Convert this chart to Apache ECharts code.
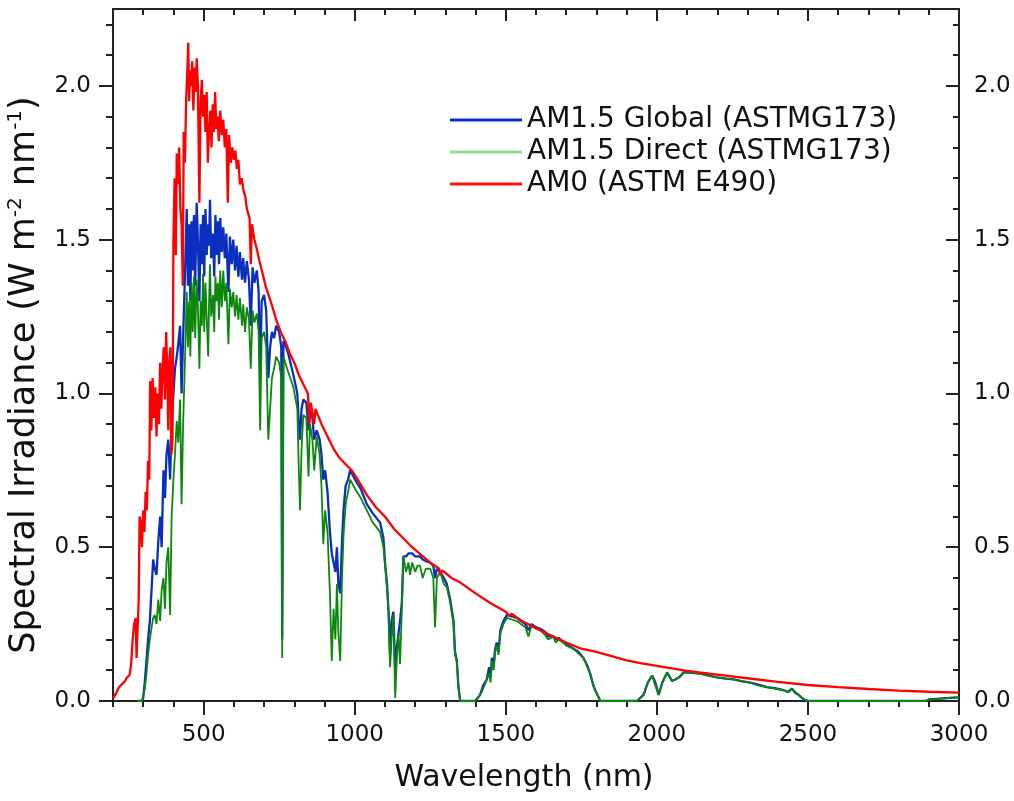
<!DOCTYPE html>
<html>
<head>
<meta charset="utf-8">
<script src="https://cdn.jsdelivr.net/npm/echarts@6/dist/echarts.min.js"></script>
<style>
html,body{margin:0;padding:0;background:#fff;}
#chart{width:1014px;height:801px;}
</style>
</head>
<body>
<div id="chart"></div>
<script>
// ---- Data ----
var am0Wl = [200,210,220,230,240,245,250,255,260,265,270,275,278,282,285,288,292,296,300,304,308,312,316,320,323,327,331,335,340,344,348,352,356,360,364,368,372,376,380,383,386,390,393,397,400,404,408,411,415,419,423,427,431,434,438,442,446,449,452,455,459,462,466,470,474,477,481,486,490,494,498,502,506,510,514,518,522,526,530,534,538,542,546,550,555,560,565,570,575,580,584,590,595,600,605,610,615,620,626,632,638,643,648,652,656,660,668,676,685,695,705,715,725,740,755,770,785,800,815,830,845,850,855,866,870,890,910,930,950,970,990,1010,1040,1070,1100,1130,1160,1190,1220,1250,1280,1282,1290,1320,1350,1400,1450,1500,1510,1520,1550,1600,1650,1700,1750,1800,1850,1900,1950,2000,2050,2100,2200,2300,2400,2500,2600,2700,2800,2900,3000];
var am0Val = [0.008,0.025,0.045,0.055,0.065,0.075,0.07,0.085,0.12,0.2,0.25,0.27,0.14,0.25,0.33,0.6,0.58,0.5,0.62,0.55,0.68,0.62,0.78,0.72,1.04,0.88,1.05,0.92,1.02,0.86,1.0,0.9,1.1,0.95,1.08,1.15,0.98,1.2,1.05,0.88,1.1,1.15,0.8,0.85,1.5,1.7,1.45,1.78,1.68,1.8,1.6,1.55,1.35,1.85,1.75,1.95,2.05,2.14,1.95,2.05,2.0,2.08,1.92,2.06,1.98,2.09,2.0,1.62,1.95,2.02,1.9,1.97,1.85,1.98,1.75,1.85,1.92,1.8,1.94,1.85,1.98,1.86,1.9,1.82,1.92,1.84,1.89,1.8,1.86,1.62,1.84,1.75,1.8,1.76,1.79,1.73,1.76,1.68,1.7,1.66,1.64,1.6,1.6,1.57,1.42,1.55,1.5,1.47,1.43,1.39,1.35,1.32,1.29,1.24,1.2,1.17,1.13,1.1,1.06,1.03,1.0,0.9,0.97,0.9,0.95,0.9,0.86,0.82,0.79,0.77,0.75,0.72,0.67,0.63,0.6,0.56,0.53,0.5,0.475,0.45,0.43,0.41,0.425,0.4,0.385,0.35,0.318,0.29,0.278,0.283,0.262,0.237,0.213,0.19,0.17,0.16,0.146,0.132,0.122,0.114,0.106,0.098,0.086,0.074,0.062,0.052,0.045,0.039,0.034,0.03,0.027];

var g173Wl = [280,296,300,305,310,316,322,328,333,338,344,350,356,361,367,372,377,383,389,394,400,405,411,416,422,427,432,438,444,448,452,456,460,464,468,472,477,481,486,490,494,498,502,506,510,515,518,521,525,531,535,539,543,547,551,555,560,565,570,575,582,587,593,598,604,609,615,620,627,631,637,643,650,656,662,668,676,682,687,692,700,707,714,720,726,733,740,750,757,760,764,770,780,797,810,815,819,824,830,840,847,852,860,866,874,884,890,896,902,910,918,924,930,936,941,946,952,958,963,970,978,985,1001,1020,1040,1060,1084,1095,1101,1107,1112,1117,1122,1128,1134,1140,1145,1150,1156,1161,1170,1178,1183,1190,1200,1208,1216,1225,1235,1250,1260,1266,1272,1283,1295,1305,1316,1327,1332,1338,1343,1349,1399,1415,1425,1437,1445,1450,1454,1460,1465,1470,1476,1482,1492,1504,1520,1537,1550,1565,1575,1585,1600,1614,1630,1640,1658,1665,1675,1691,1700,1724,1740,1757,1770,1779,1790,1796,1813,1934,1956,1970,1984,1995,2006,2018,2034,2050,2061,2075,2089,2110,2144,2170,2199,2230,2254,2280,2309,2330,2364,2390,2419,2435,2447,2458,2469,2486,2502,2890,2900,2940,2970,3000];
var globalVal = [0,0,0.01,0.06,0.12,0.2,0.26,0.37,0.46,0.43,0.41,0.52,0.6,0.5,0.75,0.66,0.8,0.85,0.72,0.9,1.0,1.08,1.12,1.16,1.22,1.0,1.18,1.38,1.6,1.35,1.55,1.3,1.56,1.4,1.58,1.35,1.62,1.5,1.3,1.55,1.42,1.58,1.38,1.6,1.45,1.55,1.48,1.63,1.44,1.52,1.38,1.58,1.45,1.56,1.42,1.57,1.46,1.54,1.44,1.52,1.33,1.51,1.42,1.5,1.4,1.48,1.38,1.46,1.37,1.44,1.36,1.43,1.37,1.22,1.41,1.36,1.4,1.33,1.05,1.3,1.32,1.27,1.05,1.15,1.2,1.18,1.22,1.2,1.15,0.2,1.17,1.16,1.13,1.06,1.0,0.9,0.85,0.95,0.98,0.97,0.88,0.96,0.92,0.85,0.88,0.85,0.8,0.72,0.75,0.68,0.55,0.48,0.45,0.42,0.5,0.38,0.35,0.52,0.62,0.7,0.72,0.75,0.72,0.69,0.64,0.61,0.58,0.53,0.44,0.38,0.29,0.15,0.26,0.29,0.1,0.18,0.22,0.26,0.32,0.47,0.47,0.48,0.48,0.48,0.47,0.47,0.47,0.46,0.455,0.45,0.44,0.4,0.43,0.42,0.4,0.38,0.33,0.26,0.16,0.13,0.05,0,0,0.02,0.05,0.07,0.11,0.08,0.14,0.12,0.17,0.19,0.16,0.23,0.26,0.28,0.275,0.27,0.26,0.25,0.23,0.25,0.24,0.235,0.225,0.21,0.21,0.2,0.205,0.19,0.185,0.17,0.16,0.14,0.115,0.09,0.05,0.035,0,0,0.02,0.06,0.083,0.06,0.02,0.06,0.093,0.065,0.07,0.078,0.093,0.092,0.089,0.083,0.077,0.073,0.07,0.065,0.06,0.055,0.045,0.042,0.035,0.03,0.04,0.028,0.02,0.005,0,0,0.005,0.008,0.01,0.012];
var directVal = [0,0,0.005,0.04,0.08,0.15,0.2,0.24,0.27,0.28,0.25,0.33,0.26,0.36,0.4,0.3,0.45,0.5,0.28,0.6,0.72,0.8,0.91,0.84,0.98,0.64,0.9,1.1,1.33,1.15,1.3,1.12,1.36,1.2,1.38,1.18,1.37,1.28,1.08,1.3,1.22,1.39,1.2,1.36,1.25,1.12,1.3,1.42,1.25,1.32,1.2,1.38,1.3,1.36,1.24,1.4,1.28,1.4,1.3,1.36,1.16,1.34,1.28,1.33,1.25,1.32,1.24,1.31,1.22,1.29,1.2,1.28,1.24,1.08,1.27,1.23,1.26,1.2,0.88,1.18,1.2,1.15,0.85,0.95,1.05,1.08,1.12,1.1,1.05,0.14,1.12,1.1,1.07,1.02,0.95,0.75,0.62,0.82,0.93,0.92,0.73,0.9,0.85,0.75,0.86,0.8,0.7,0.51,0.62,0.55,0.35,0.13,0.3,0.2,0.38,0.22,0.13,0.4,0.54,0.64,0.68,0.72,0.69,0.66,0.62,0.58,0.55,0.5,0.44,0.36,0.29,0.11,0.2,0.28,0.01,0.15,0.22,0.12,0.3,0.47,0.42,0.45,0.41,0.45,0.42,0.44,0.44,0.4,0.43,0.43,0.4,0.24,0.4,0.42,0.38,0.37,0.32,0.25,0.15,0.13,0.05,0,0,0.02,0.04,0.07,0.09,0.06,0.13,0.1,0.16,0.18,0.15,0.22,0.25,0.27,0.265,0.26,0.25,0.24,0.21,0.245,0.235,0.23,0.215,0.2,0.21,0.19,0.2,0.19,0.18,0.17,0.155,0.14,0.11,0.09,0.05,0.035,0,0,0.02,0.06,0.083,0.05,0.02,0.06,0.093,0.065,0.07,0.078,0.093,0.092,0.089,0.082,0.077,0.072,0.07,0.064,0.06,0.052,0.045,0.04,0.035,0.028,0.04,0.025,0.02,0.005,0,0,0.005,0.008,0.01,0.012];

var seriesNames = ['AM1.5 Global (ASTMG173)', 'AM1.5 Direct (ASTMG173)', 'AM0 (ASTM E490)'];

// tick values / labels
var xMajorTicks = [500,1000,1500,2000,2500,3000];
var xMinorTicks = [200,300,400,600,700,800,900,1100,1200,1300,1400,1600,1700,1800,1900,2100,2200,2300,2400,2600,2700,2800,2900];
var yMajorTicks = [0,0.5,1.0,1.5,2.0];
var yMinorTicks = [0.1,0.2,0.3,0.4,0.6,0.7,0.8,0.9,1.1,1.2,1.3,1.4,1.6,1.7,1.8,1.9,2.1,2.2];

function pairs(xs, ys){ return xs.map(function(x,i){ return [x, ys[i]]; }); }

var FONT = 'DejaVu Sans';
var AX = '#222';
var chart = echarts.init(document.getElementById('chart'), null, {renderer:'canvas'});

function xAx(opts){
  return Object.assign({
    type:'value', min:200, max:3000, gridIndex:0,
    splitLine:{show:false},
    axisLine:{show:false, onZero:false, lineStyle:{color:AX, width:2}},
    axisTick:{show:false},
    axisLabel:{show:false}
  }, opts);
}
function yAx(opts){
  return Object.assign({
    type:'value', min:0, max:2.25, gridIndex:0,
    splitLine:{show:false},
    axisLine:{show:false, onZero:false, lineStyle:{color:AX, width:2}},
    axisTick:{show:false},
    axisLabel:{show:false}
  }, opts);
}

var option = {
  backgroundColor:'#fff',
  animation:false,
  grid:{left:113, right:55, top:9, bottom:100, containLabel:false, outerBoundsMode:'none'},
  legend:{
    orient:'vertical', left:450, top:106, itemGap:4, itemWidth:72, itemHeight:3,
    icon:'rect', padding:0,
    textStyle:{fontFamily:FONT, fontSize:28, color:'#111'},
    data:[
      {name:seriesNames[0], itemStyle:{color:'#0a2fbf'}},
      {name:seriesNames[1], itemStyle:{color:'#93dc93'}},
      {name:seriesNames[2], itemStyle:{color:'#ff1010'}}
    ]
  },
  xAxis:[
    xAx({position:'bottom',
      axisLine:{show:true, onZero:false, lineStyle:{color:AX, width:2}},
      axisTick:{show:true, inside:false, length:14, customValues:xMajorTicks, lineStyle:{color:AX, width:2}},
      axisLabel:{show:true, customValues:xMajorTicks, margin:23, fontFamily:FONT, fontSize:23, color:'#111',
        formatter:function(v){return String(v);}},
      name:'Wavelength (nm)', nameLocation:'middle', nameGap:62,
      nameTextStyle:{fontFamily:FONT, fontSize:30, color:'#111', padding:[0,24,0,0]}
    }),
    xAx({position:'bottom',
      axisTick:{show:true, inside:false, length:6, customValues:xMinorTicks, lineStyle:{color:AX, width:2}}
    }),
    xAx({position:'top',
      axisLine:{show:true, onZero:false, lineStyle:{color:AX, width:2}},
      axisTick:{show:true, inside:true, length:12, customValues:xMajorTicks, lineStyle:{color:AX, width:2}}
    }),
    xAx({position:'top',
      axisTick:{show:true, inside:true, length:6, customValues:xMinorTicks, lineStyle:{color:AX, width:2}}
    })
  ],
  yAxis:[
    yAx({position:'left',
      axisLine:{show:true, onZero:false, lineStyle:{color:AX, width:2}},
      axisTick:{show:true, inside:false, length:14, customValues:yMajorTicks, lineStyle:{color:AX, width:2}},
      axisLabel:{show:true, customValues:yMajorTicks, margin:22, fontFamily:FONT, fontSize:23, color:'#111',
        formatter:function(v){return Number(v).toFixed(1);}},
      name:'Spectral Irradiance (W m{sup|-2} nm{sup|-1})', nameLocation:'middle', nameGap:56,
      nameTextStyle:{fontFamily:FONT, fontSize:35, color:'#111', lineHeight:38, padding:[0,40,0,0],
        rich:{sup:{fontFamily:FONT, fontSize:20, color:'#111', verticalAlign:'top', lineHeight:38}}}
    }),
    yAx({position:'left',
      axisTick:{show:true, inside:false, length:7, customValues:yMinorTicks, lineStyle:{color:AX, width:2}}
    }),
    yAx({position:'right',
      axisLine:{show:true, onZero:false, lineStyle:{color:AX, width:2}},
      axisTick:{show:true, inside:true, length:13, customValues:yMajorTicks, lineStyle:{color:AX, width:2}},
      axisLabel:{show:true, customValues:yMajorTicks, margin:15, fontFamily:FONT, fontSize:23, color:'#111',
        formatter:function(v){return Number(v).toFixed(1);}}
    }),
    yAx({position:'right',
      axisTick:{show:true, inside:true, length:6, customValues:yMinorTicks, lineStyle:{color:AX, width:2}}
    })
  ],
  series:[
    {name:seriesNames[0], type:'line', xAxisIndex:0, yAxisIndex:0, symbol:'none', z:2,
      data:pairs(g173Wl, globalVal), lineStyle:{color:'#0a2fbf', width:2.3}, itemStyle:{color:'#0a2fbf'}},
    {name:seriesNames[1], type:'line', xAxisIndex:0, yAxisIndex:0, symbol:'none', z:3,
      data:pairs(g173Wl, directVal), lineStyle:{color:'#0c870c', width:1.8}, itemStyle:{color:'#0c870c'}},
    {name:seriesNames[2], type:'line', xAxisIndex:0, yAxisIndex:0, symbol:'none', z:4,
      data:pairs(am0Wl, am0Val), lineStyle:{color:'#ff0000', width:2.3}, itemStyle:{color:'#ff0000'}}
  ]
};
chart.setOption(option);
</script>
</body>
</html>
